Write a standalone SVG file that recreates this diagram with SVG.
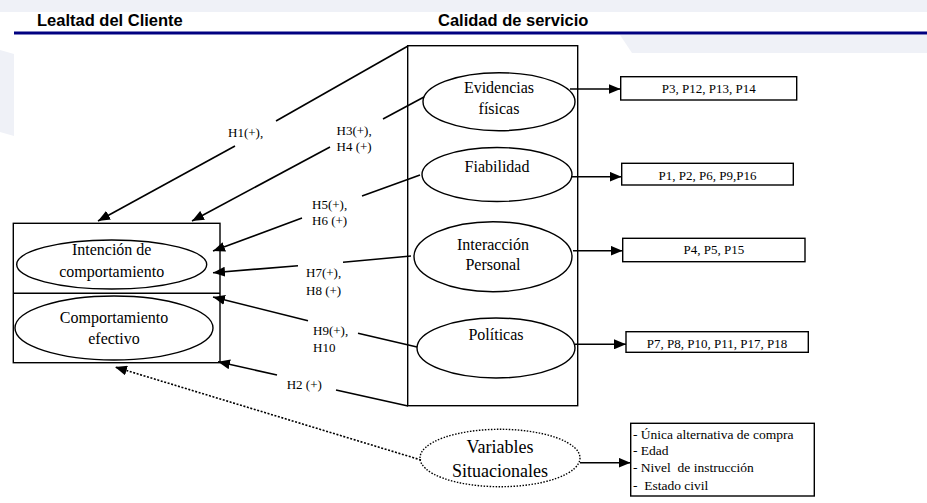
<svg xmlns="http://www.w3.org/2000/svg" width="927" height="503" viewBox="0 0 927 503">
<style>
.hdr{font-family:"Liberation Sans",Arial,sans-serif;font-weight:bold;font-size:16.5px;fill:#000}
.t{font-family:"Liberation Serif","Times New Roman",serif;fill:#000}
.el{font-size:16px;text-anchor:middle}
.lb{font-size:13px}
.pb{font-size:13px;text-anchor:middle}
.sv{font-size:13.5px}
.shape{fill:none;stroke:#000;stroke-width:1.4}
.ln{fill:none;stroke:#000;stroke-width:1.6}
.wm{fill:#eff1f7}
</style>
<defs>
<marker id="ah" markerUnits="userSpaceOnUse" markerWidth="12" markerHeight="10" refX="12" refY="5" orient="auto">
<path d="M0,0 L12,5 L0,10 z" fill="#000"/>
</marker>
</defs>
<rect width="927" height="503" fill="#fff"/>
<g id="watermark">
<rect class="wm" x="0" y="0" width="927" height="12"/>
<polygon class="wm" points="620,35 927,35 927,53 632,53"/>
<polygon class="wm" points="0,50 14,54 14,136 0,132"/>
</g>
<g id="header">
<text class="hdr" x="37" y="26">Lealtad del Cliente</text>
<text class="hdr" x="438" y="26">Calidad de servicio</text>
<line x1="14" y1="33" x2="927" y2="33" stroke="#000080" stroke-width="2.8"/>
</g>
<g id="connectors">
<line class="ln" x1="408" y1="46" x2="276" y2="121"/>
<line class="ln" x1="235" y1="146" x2="98" y2="221" marker-end="url(#ah)"/>
<line class="ln" x1="424" y1="97" x2="383" y2="119"/>
<line class="ln" x1="330" y1="147" x2="192" y2="221" marker-end="url(#ah)"/>
<line class="ln" x1="420" y1="175" x2="362" y2="196"/>
<line class="ln" x1="302" y1="218" x2="213" y2="251" marker-end="url(#ah)"/>
<line class="ln" x1="411" y1="256" x2="343" y2="262.3"/>
<line class="ln" x1="298" y1="265.7" x2="213" y2="272.7" marker-end="url(#ah)"/>
<line class="ln" x1="417" y1="347" x2="358" y2="333.3"/>
<line class="ln" x1="308" y1="320.7" x2="213" y2="297" marker-end="url(#ah)"/>
<line class="ln" x1="408" y1="406" x2="336" y2="390"/>
<line class="ln" x1="277" y1="375" x2="218" y2="361.7" marker-end="url(#ah)"/>
<line class="ln" x1="421" y1="460" x2="115" y2="367" stroke-dasharray="2,1.6" stroke-width="1.4" marker-end="url(#ah)"/>
<line class="ln" x1="570" y1="89" x2="620.5" y2="89" marker-end="url(#ah)"/>
<line class="ln" x1="571" y1="176.7" x2="621.5" y2="176.7" marker-end="url(#ah)"/>
<line class="ln" x1="573" y1="250.7" x2="622.5" y2="250.7" marker-end="url(#ah)"/>
<line class="ln" x1="575" y1="344.3" x2="626" y2="344.3" marker-end="url(#ah)"/>
<line class="ln" x1="580" y1="462.7" x2="630.5" y2="462.7" marker-end="url(#ah)"/>
</g>
<g id="connector-labels">
<text class="t lb" x="228" y="136.5">H1(+),</text>
<text class="t lb" x="336.5" y="135">H3(+),</text>
<text class="t lb" x="336.5" y="151">H4 (+)</text>
<text class="t lb" x="312" y="209">H5(+),</text>
<text class="t lb" x="312" y="225">H6 (+)</text>
<text class="t lb" x="306" y="277.3">H7(+),</text>
<text class="t lb" x="306" y="295">H8 (+)</text>
<text class="t lb" x="313" y="335">H9(+),</text>
<text class="t lb" x="313" y="351.7">H10</text>
<text class="t lb" x="286.7" y="389.3">H2 (+)</text>
</g>
<g id="lealtad">
<rect class="shape" x="13.3" y="223.3" width="206.7" height="139.4"/>
<line class="shape" x1="13.3" y1="293.3" x2="220" y2="293.3"/>
</g>
<g id="intencion">
<ellipse class="shape" cx="111.7" cy="264.5" rx="95" ry="24.5"/>
<text class="t el" x="111.7" y="255">Intención de</text>
<text class="t el" x="111.7" y="277">comportamiento</text>
</g>
<g id="comportamiento">
<ellipse class="shape" cx="114" cy="328" rx="99" ry="32"/>
<text class="t el" x="114" y="323.3">Comportamiento</text>
<text class="t el" x="114" y="344">efectivo</text>
</g>
<g id="calidad">
<rect class="shape" x="407.7" y="45.7" width="170" height="360"/>
</g>
<g id="evidencias">
<ellipse class="shape" cx="499" cy="101.7" rx="76" ry="29"/>
<text class="t el" x="499" y="93.3">Evidencias</text>
<text class="t el" x="499" y="113.5">físicas</text>
</g>
<g id="fiabilidad">
<ellipse class="shape" cx="497" cy="174.5" rx="75" ry="27"/>
<text class="t el" x="497" y="171.7">Fiabilidad</text>
</g>
<g id="interaccion">
<ellipse class="shape" cx="493" cy="256.7" rx="79" ry="35"/>
<text class="t el" x="493" y="250">Interacción</text>
<text class="t el" x="493" y="270">Personal</text>
</g>
<g id="politicas">
<ellipse class="shape" cx="496" cy="348" rx="79" ry="30"/>
<text class="t el" x="496" y="340">Políticas</text>
</g>
<g id="variables">
<ellipse class="shape" cx="500" cy="458" rx="80" ry="28.7" stroke-dasharray="1.5,1.5" stroke-width="1.1"/>
<text class="t el" x="500" y="453.3" style="font-size:18px">Variables</text>
<text class="t el" x="500" y="477.3" style="font-size:18px">Situacionales</text>
</g>
<g id="box-evidencias">
<rect class="shape" x="620.7" y="76.7" width="176" height="23.3"/>
<text class="t pb" x="708.7" y="93">P3, P12, P13, P14</text>
</g>
<g id="box-fiabilidad">
<rect class="shape" x="621.7" y="163.3" width="171.6" height="21.7"/>
<text class="t pb" x="707.5" y="179.5">P1, P2, P6, P9,P16</text>
</g>
<g id="box-interaccion">
<rect class="shape" x="622.7" y="238.3" width="182.3" height="23.4"/>
<text class="t pb" x="713.8" y="253.5">P4, P5, P15</text>
</g>
<g id="box-politicas">
<rect class="shape" x="626" y="331.7" width="182.3" height="20.6"/>
<text class="t pb" x="717" y="348">P7, P8, P10, P11, P17, P18</text>
</g>
<g id="box-variables">
<rect class="shape" x="630.7" y="423.3" width="183.6" height="72.7"/>
<text class="t sv" x="633" y="439.3">- Única alternativa de compra</text>
<text class="t sv" x="633" y="454.5">- Edad</text>
<text class="t sv" x="633" y="472.3" xml:space="preserve">- Nivel  de instrucción</text>
<text class="t sv" x="633" y="490" xml:space="preserve">-  Estado civil</text>
</g>
</svg>
